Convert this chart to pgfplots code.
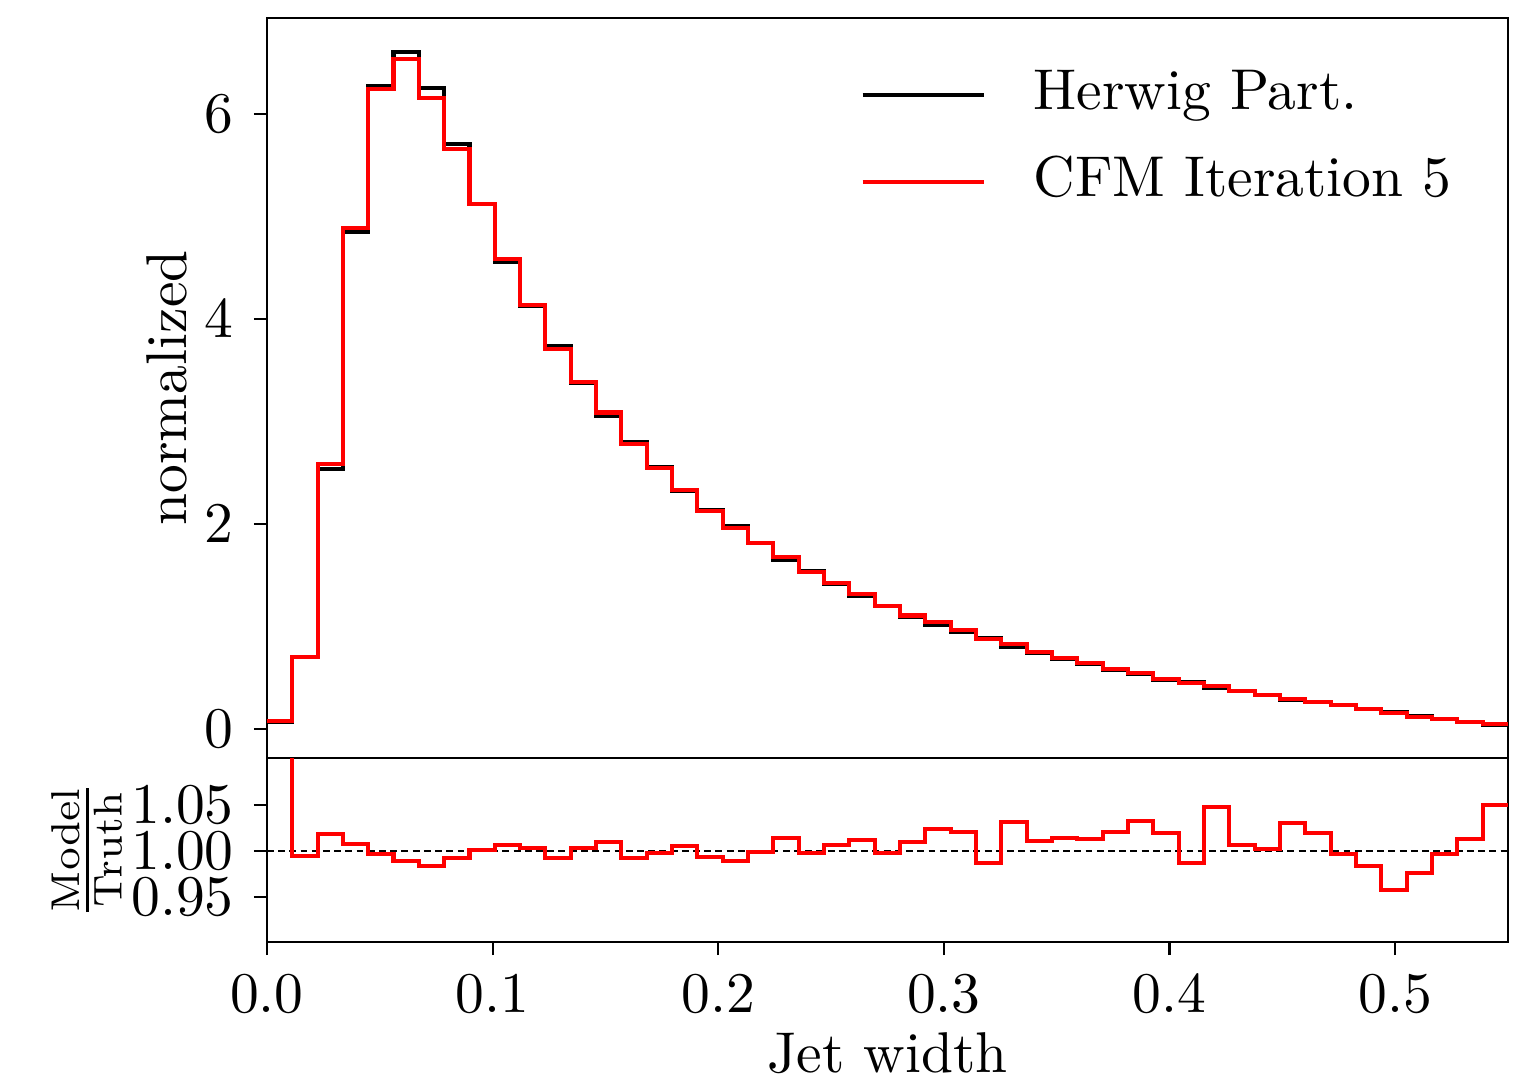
\documentclass[border=0pt]{standalone}
\usepackage{pgfplots}
\pgfplotsset{compat=1.18}
\begin{document}
\begin{tikzpicture}
\pgfplotsset{
  every axis/.append style={
    scale only axis,
    width=215.8pt,
    xmin=0, xmax=0.55,
    tick align=outside,
    major tick length=2.26pt,
    tick style={line width=0.35pt, black},
    axis line style={line width=0.35pt},
    xtick={0,0.1,0.2,0.3,0.4,0.5},
    xtick pos=left, ytick pos=left,
  },
}
\begin{axis}[
  name=top,
  height=128.7pt,
  ymin=-0.28, ymax=6.94,
  ytick={0,2,4,6},
  xticklabels={},
  xtick style={draw=none},
  ylabel={normalized},
  ylabel shift=-3.8pt,
  legend style={draw=none, fill=none, at={(1,1)}, anchor=north east,
    xshift=-9.6pt, yshift=-8.7pt, inner sep=0pt, row sep=6.1pt,
    nodes={inner sep=0pt, text height=7pt, text depth=2pt},
    /tikz/every odd column/.append style={column sep=8.2pt}},
  legend cell align=left,
  legend image code/.code={\draw[#1] (0pt,0pt) -- (21.2pt,0pt);},
]
\addplot[const plot mark left, black, line width=0.7pt] coordinates {
(0,0.07) (0.011224,0.705) (0.022449,2.54) (0.033673,4.85) (0.044898,6.27)
(0.056122,6.61) (0.067347,6.26) (0.078571,5.71) (0.089796,5.12) (0.101020,4.56)
(0.112245,4.13) (0.123469,3.74) (0.134694,3.38) (0.145918,3.06) (0.157143,2.80)
(0.168367,2.555) (0.179592,2.32) (0.190816,2.14) (0.202041,1.985) (0.213265,1.815)
(0.224490,1.655) (0.235714,1.54) (0.246939,1.415) (0.258163,1.30) (0.269388,1.205)
(0.280612,1.10) (0.291837,1.02) (0.303061,0.945) (0.314286,0.895) (0.325510,0.805)
(0.336735,0.745) (0.347959,0.69) (0.359184,0.637) (0.370408,0.58) (0.381633,0.535)
(0.392857,0.485) (0.404082,0.46) (0.415306,0.403) (0.426531,0.372) (0.437755,0.338)
(0.448980,0.285) (0.460204,0.262) (0.471429,0.235) (0.482653,0.198) (0.493878,0.17)
(0.505102,0.127) (0.516327,0.098) (0.527551,0.07) (0.538776,0.047) (0.55,0.047)
};
\addlegendentry{Herwig Part.}
\addplot[const plot mark left, red, line width=0.7pt] coordinates {
(0,0.085) (0.011224,0.702) (0.022449,2.585) (0.033673,4.89) (0.044898,6.25)
(0.056122,6.54) (0.067347,6.16) (0.078571,5.66) (0.089796,5.12) (0.101020,4.59)
(0.112245,4.14) (0.123469,3.71) (0.134694,3.39) (0.145918,3.09) (0.157143,2.78)
(0.168367,2.55) (0.179592,2.33) (0.190816,2.125) (0.202041,1.963) (0.213265,1.813)
(0.224490,1.678) (0.235714,1.536) (0.246939,1.425) (0.258163,1.316) (0.269388,1.203)
(0.280612,1.11) (0.291837,1.045) (0.303061,0.965) (0.314286,0.883) (0.325510,0.83)
(0.336735,0.753) (0.347959,0.70) (0.359184,0.645) (0.370408,0.592) (0.381633,0.552)
(0.392857,0.495) (0.404082,0.454) (0.415306,0.422) (0.426531,0.375) (0.437755,0.339)
(0.448980,0.293) (0.460204,0.267) (0.471429,0.234) (0.482653,0.195) (0.493878,0.163)
(0.505102,0.124) (0.516327,0.098) (0.527551,0.071) (0.538776,0.049) (0.55,0.049)
};
\addlegendentry{CFM Iteration 5}
\end{axis}
\begin{axis}[
  name=bot,
  at={(top.south west)}, anchor=north west,
  height=32pt,
  ymin=0.9015, ymax=1.1006,
  ytick={0.95,1.00,1.05},
  yticklabel style={/pgf/number format/fixed, /pgf/number format/precision=2, /pgf/number format/fixed zerofill},
  xticklabel style={/pgf/number format/fixed, /pgf/number format/precision=1, /pgf/number format/fixed zerofill},
  xlabel={Jet width},
  xlabel style={yshift=3.3pt},
  ylabel={$\frac{\mathrm{Model}}{\mathrm{Truth}}$},
  ylabel shift=-5.2pt,
]
\addplot[black, dashed, line width=0.35pt, dash pattern=on 1.2pt off 0.75pt] coordinates {(0,1) (0.55,1)};
\addplot[const plot mark left, red, line width=0.7pt] coordinates {
(0,1.21) (0.011224,0.995) (0.022449,1.018) (0.033673,1.008) (0.044898,0.997)
(0.056122,0.989) (0.067347,0.984) (0.078571,0.992) (0.089796,1.001) (0.101020,1.007)
(0.112245,1.0035) (0.123469,0.992) (0.134694,1.0035) (0.145918,1.0095) (0.157143,0.992)
(0.168367,0.998) (0.179592,1.005) (0.190816,0.993) (0.202041,0.989) (0.213265,0.999)
(0.224490,1.014) (0.235714,0.998) (0.246939,1.007) (0.258163,1.012) (0.269388,0.998)
(0.280612,1.0095) (0.291837,1.024) (0.303061,1.021) (0.314286,0.987) (0.325510,1.031)
(0.336735,1.011) (0.347959,1.014) (0.359184,1.013) (0.370408,1.021) (0.381633,1.032)
(0.392857,1.02) (0.404082,0.987) (0.415306,1.048) (0.426531,1.007) (0.437755,1.002)
(0.448980,1.03) (0.460204,1.019) (0.471429,0.997) (0.482653,0.984) (0.493878,0.958)
(0.505102,0.976) (0.516327,0.997) (0.527551,1.013) (0.538776,1.05) (0.55,1.05)
};
\end{axis}
\pgfresetboundingbox
\path ([xshift=-46.4pt,yshift=-25.0pt]bot.south west) rectangle ([xshift=4.0pt,yshift=3.1pt]top.north east);
\end{tikzpicture}
\end{document}
